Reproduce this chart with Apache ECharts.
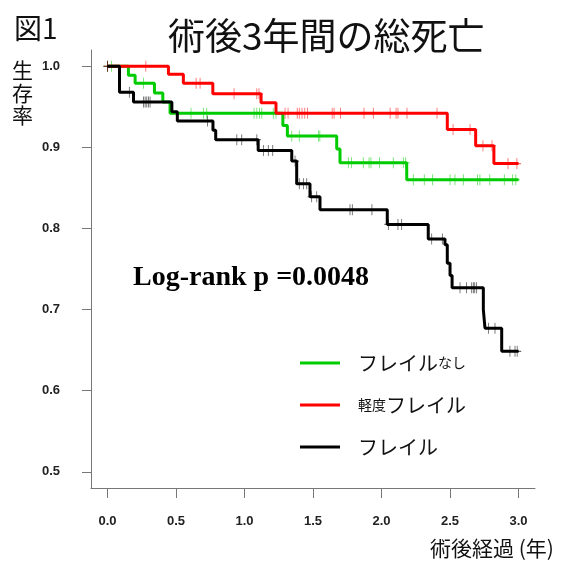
<!DOCTYPE html>
<html>
<head>
<meta charset="utf-8">
<script src="https://cdn.jsdelivr.net/npm/echarts@6/dist/echarts.min.js"></script>
<style>
  html, body { margin: 0; padding: 0; background: #fff; }
  #chart { width: 568px; height: 570px; }
</style>
</head>
<body>
<div id="chart"></div>
<script>
// axis ticks
var xTicks = [0, 0.5, 1, 1.5, 2, 2.5, 3];
var yTicks = [0.5, 0.6, 0.7, 0.8, 0.9, 1.0];

// フレイルなし (green)
var noneTimes = [0, 0.153, 0.202, 0.343, 0.404, 0.457, 1.28, 1.313, 1.673, 1.697, 2.184, 3.0];
var noneSurv  = [1.0, 0.989, 0.979, 0.967, 0.956, 0.942, 0.927, 0.914, 0.898, 0.881, 0.860, 0.860];
var noneCens  = [0, 0.03, 0.263, 0.61, 0.70, 0.725, 1.07, 1.09, 1.11, 1.126, 1.21, 1.23,
                 1.345, 1.40, 1.54, 1.55, 1.758, 1.78, 1.867, 1.909, 1.923, 1.985, 2.086, 2.159, 2.176,
                 2.232, 2.312, 2.373, 2.50, 2.536, 2.597, 2.70, 2.718, 2.79, 2.896, 2.957, 2.98];

// 軽度フレイル (red)
var mildTimes = [0, 0.445, 0.554, 0.769, 1.121, 1.23, 2.48, 2.687, 2.82, 3.0];
var mildSurv  = [1.0, 0.990, 0.979, 0.966, 0.955, 0.942, 0.922, 0.902, 0.880, 0.880];
var mildCens  = [0, 0.28, 0.647, 0.676, 0.924, 1.09, 1.106,
                 1.296, 1.318, 1.385, 1.40, 1.42, 1.44, 1.46, 1.64, 1.654, 1.70, 1.872, 1.94,
                 2.063, 2.106, 2.12, 2.186, 2.405, 2.522, 2.646, 2.74, 2.806, 2.923, 2.988];

// フレイル (black)
var frailTimes = [0, 0.088, 0.19, 0.47, 0.51, 0.77, 0.79, 1.10, 1.345, 1.381, 1.478, 1.551,
                  2.042, 2.341, 2.463, 2.48, 2.50, 2.515, 2.743, 2.755, 2.877, 3.0];
var frailSurv  = [1.0, 0.968, 0.956, 0.944, 0.9325, 0.921, 0.9095, 0.896, 0.883, 0.855, 0.839, 0.823,
                  0.805, 0.787, 0.78, 0.757, 0.742, 0.727, 0.70, 0.677, 0.6485, 0.6485];
var frailCens  = [0, 0.16, 0.263, 0.275, 0.287, 0.299, 0.311, 0.73, 0.944, 0.98, 1.09,
                  1.138, 1.174, 1.206, 1.369, 1.40, 1.43, 1.454, 1.49, 1.527, 1.77, 1.787, 1.93,
                  2.05, 2.12, 2.147, 2.366, 2.444, 2.573, 2.62, 2.658, 2.67, 2.68, 2.694,
                  2.78, 2.828, 2.937, 2.974, 2.99];

var groupNames = ['フレイルなし', '軽度フレイル', 'フレイル'];
var groupColors = ['#00cc00', '#ff0000', '#000000'];

var JP = '"Noto Sans CJK JP", sans-serif';

function pairs(ts, vs) {
  return ts.map(function (t, i) { return [t, vs[i]]; });
}
// survival level at a censor time (step function lookup)
function censorPoints(cens, ts, vs) {
  return cens.map(function (c) {
    var v = vs[0];
    for (var i = 0; i < ts.length; i++) { if (ts[i] <= c) v = vs[i]; }
    return [c, v];
  });
}

var groups = [
  [noneTimes, noneSurv, noneCens],
  [mildTimes, mildSurv, mildCens],
  [frailTimes, frailSurv, frailCens]
];

var series = [];
groups.forEach(function (g, i) {
  series.push({
    name: groupNames[i],
    type: 'line',
    step: 'end',
    showSymbol: false,
    data: pairs(g[0], g[1]),
    lineStyle: { color: groupColors[i], width: 3 },
    itemStyle: { color: groupColors[i] },
    z: 3 + i
  });
  series.push({
    name: groupNames[i] + '_censor',
    type: 'scatter',
    symbol: 'path://M0,5L10,5M5,0L5,10',
    symbolSize: [8, 11],
    data: censorPoints(g[2], g[0], g[1]),
    itemStyle: { color: 'none', borderColor: groupColors[i], borderWidth: 1, opacity: 0.6 },
    z: 3 + i
  });
});

var legendTops = [353, 395, 437];
var legends = groupNames.map(function (n, i) {
  return {
    left: 300,
    top: legendTops[i],
    orient: 'vertical',
    padding: 0,
    itemWidth: 40,
    itemHeight: 3,
    selectedMode: false,
    data: [{ name: n, icon: 'rect' }],
    formatter: function (name) {
      if (name === 'フレイルなし') return '{b|フレイル}{s|なし}';
      if (name === '軽度フレイル') return '{s|軽度}{b|フレイル}';
      return '{b|フレイル}';
    },
    textStyle: {
      padding: [0, 0, 0, 13],
      rich: {
        b: { fontFamily: JP, fontSize: 20, color: '#111' },
        s: { fontFamily: JP, fontSize: 14, color: '#111' }
      }
    }
  };
});

var chart = echarts.init(document.getElementById('chart'));
chart.setOption({
  animation: false,
  backgroundColor: '#fff',
  title: [{
    text: '術後3年間の総死亡',
    left: 168, top: 17, padding: 0,
    textStyle: { fontFamily: JP, fontSize: 37, fontWeight: 'normal', color: '#111' }
  }, {
    text: '図1',
    left: 14, top: 14, padding: 0,
    textStyle: { fontFamily: JP, fontSize: 28, fontWeight: 'normal', color: '#111' }
  }],
  legend: legends,
  grid: { left: 91, right: 33, top: 50, bottom: 82 },
  xAxis: {
    type: 'value',
    min: -0.12, max: 3.12,
    splitLine: { show: false },
    axisLine: { show: true, onZero: false, lineStyle: { color: '#777', width: 1 } },
    axisTick: { show: true, length: 10, customValues: xTicks, lineStyle: { color: '#777' } },
    axisLabel: {
      customValues: xTicks, margin: 27,
      fontFamily: 'Liberation Sans', fontWeight: 'bold', fontSize: 13, color: '#222',
      formatter: function (v) { return v.toFixed(1); }
    }
  },
  yAxis: {
    type: 'value',
    min: 0.48, max: 1.02,
    splitLine: { show: false },
    axisLine: { show: true, onZero: false, lineStyle: { color: '#777', width: 1 } },
    axisTick: { show: true, length: 9, customValues: yTicks, lineStyle: { color: '#777' } },
    axisLabel: {
      customValues: yTicks, margin: 31,
      fontFamily: 'Liberation Sans', fontWeight: 'bold', fontSize: 13, color: '#222',
      formatter: function (v) { return v.toFixed(1); }
    }
  },
  graphic: [{
    type: 'text', left: 12, top: 59,
    style: { text: '生\n存\n率', font: '21px ' + JP, lineHeight: 22.5, fill: '#111' }
  }, {
    type: 'text', left: 430, top: 538,
    style: { text: '術後経過 (年)', font: '21px ' + JP, fill: '#111' }
  }, {
    type: 'text', left: 133, top: 264,
    style: { text: 'Log-rank p =0.0048', font: 'bold 28px "Liberation Serif"', fill: '#000' }
  }],
  series: series
});
</script>
</body>
</html>
